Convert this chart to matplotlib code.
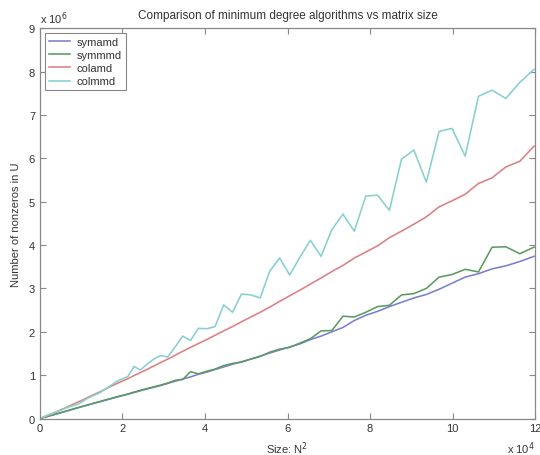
import matplotlib
matplotlib.use('Agg')
import matplotlib.pyplot as plt
import numpy as np

# grid sizes N, matrix size is N^2
N = [1, 6, 11, 16, 21, 26, 31, 36, 41, 46, 51, 56, 61, 66, 71, 76, 81, 86, 91, 96,
     101, 106, 111, 116, 121, 126, 131, 136, 141, 146, 151, 156, 161, 166, 171, 176,
     181, 186, 191, 196, 201, 206, 211, 216, 221, 226, 231, 236, 241, 246, 251, 256,
     261, 266, 271, 276, 281, 286, 291, 296, 301, 306, 311, 316, 321, 326, 331, 336,
     341, 346]

# nonzeros in U, millions
symamd = [0, 0.001, 0.003, 0.006, 0.011, 0.017, 0.024, 0.033, 0.043, 0.055,
          0.068, 0.082, 0.097, 0.115, 0.133, 0.153, 0.175, 0.198, 0.222, 0.248,
          0.275, 0.30, 0.33, 0.36, 0.39, 0.42, 0.455, 0.49, 0.525, 0.56,
          0.60, 0.64, 0.68, 0.72, 0.76, 0.81, 0.86, 0.91, 0.96, 1.02,
          1.07, 1.13, 1.19, 1.25, 1.31, 1.37, 1.44, 1.51, 1.58, 1.65,
          1.72, 1.82, 1.90, 2.00, 2.10, 2.26, 2.38, 2.47, 2.58, 2.68,
          2.78, 2.86, 2.98, 3.12, 3.26, 3.34, 3.45, 3.52, 3.62, 3.74]
symmmd = [0, 0.001, 0.003, 0.006, 0.011, 0.017, 0.025, 0.034, 0.044, 0.056,
          0.069, 0.083, 0.099, 0.117, 0.135, 0.156, 0.178, 0.200, 0.226, 0.252,
          0.278, 0.305, 0.335, 0.365, 0.395, 0.43, 0.46, 0.50, 0.53, 0.565,
          0.61, 0.65, 0.69, 0.73, 0.77, 0.82, 0.88, 0.90, 1.08, 1.03,
          1.09, 1.14, 1.22, 1.27, 1.30, 1.37, 1.43, 1.53, 1.60, 1.64,
          1.74, 1.84, 2.02, 2.03, 2.36, 2.34, 2.45, 2.58, 2.61, 2.85,
          2.88, 3.00, 3.26, 3.32, 3.44, 3.38, 3.95, 3.96, 3.80, 3.95]
colamd = [0, 0.001, 0.004, 0.009, 0.016, 0.025, 0.036, 0.049, 0.064, 0.081,
          0.10, 0.12, 0.145, 0.17, 0.20, 0.23, 0.265, 0.30, 0.34, 0.38,
          0.42, 0.47, 0.52, 0.57, 0.62, 0.68, 0.74, 0.80, 0.86, 0.92,
          0.99, 1.06, 1.13, 1.21, 1.29, 1.37, 1.46, 1.55, 1.64, 1.73,
          1.82, 1.92, 2.02, 2.12, 2.23, 2.34, 2.45, 2.57, 2.70, 2.83,
          2.96, 3.10, 3.24, 3.39, 3.53, 3.70, 3.84, 3.98, 4.17, 4.32,
          4.48, 4.65, 4.88, 5.02, 5.17, 5.42, 5.55, 5.80, 5.93, 6.28]
colmmd = [0, 0.001, 0.005, 0.011, 0.019, 0.029, 0.041, 0.055, 0.071, 0.089,
          0.10, 0.12, 0.145, 0.17, 0.19, 0.22, 0.25, 0.28, 0.30, 0.33,
          0.38, 0.45, 0.50, 0.55, 0.60, 0.68, 0.76, 0.85, 0.91, 0.97,
          1.20, 1.12, 1.25, 1.37, 1.45, 1.42, 1.65, 1.90, 1.80, 2.08,
          2.07, 2.12, 2.62, 2.45, 2.87, 2.85, 2.78, 3.40, 3.70, 3.31,
          3.72, 4.11, 3.74, 4.36, 4.71, 4.32, 5.13, 5.15, 4.80, 5.98,
          6.19, 5.45, 6.62, 6.69, 6.05, 7.43, 7.57, 7.38, 7.75, 8.05]

names = ['symamd', 'symmmd', 'colamd', 'colmmd']
colors = ['#7b7fcf', '#5d9a63', '#dc7f86', '#86d0cf']

size = np.array(N) ** 2 / 1e4

plt.rcParams['font.family'] = ['Liberation Sans', 'DejaVu Sans']
fig = plt.figure(figsize=(5.4, 4.56), dpi=100)
ax = fig.add_axes([0.074, 0.080, 0.917, 0.856])

for vals, name, c in zip([symamd, symmmd, colamd, colmmd], names, colors):
    ax.plot(size, vals, color=c, lw=1.15, label=name)

ax.set_xlim(0, 12)
ax.set_ylim(0, 9)
ax.set_xticks(range(0, 13, 2))
ax.set_yticks(range(0, 10))
ax.tick_params(direction='in', top=True, right=True, length=4, width=0.8,
               colors='#888888', labelcolor='#333333', labelsize=8)
for s in ax.spines.values():
    s.set_color('#888888')
    s.set_linewidth(0.9)

ax.set_title('Comparison of minimum degree algorithms vs matrix size',
             fontsize=8.5, color='#333333', pad=7)
ax.set_xlabel('Size: N$^2$', fontsize=8, color='#333333', labelpad=4)
ax.set_ylabel('Number of nonzeros in U', fontsize=8, color='#333333', labelpad=6)
ax.text(0.0, 1.006, r'x 10$^6$', transform=ax.transAxes, fontsize=8, color='#333333',
        ha='left', va='bottom')
ax.text(1.0, -0.074, r'x 10$^4$', transform=ax.transAxes, fontsize=8, color='#333333',
        ha='right', va='center')

leg = ax.legend(loc='upper left', fontsize=8, handlelength=1.9, borderpad=0.35,
                labelspacing=0.28, handletextpad=0.6, fancybox=False,
                borderaxespad=0.45, framealpha=1)
leg.get_frame().set_edgecolor('#888888')
leg.get_frame().set_linewidth(0.8)
for t in leg.get_texts():
    t.set_color('#333333')

fig.savefig('out.png', dpi=100)
